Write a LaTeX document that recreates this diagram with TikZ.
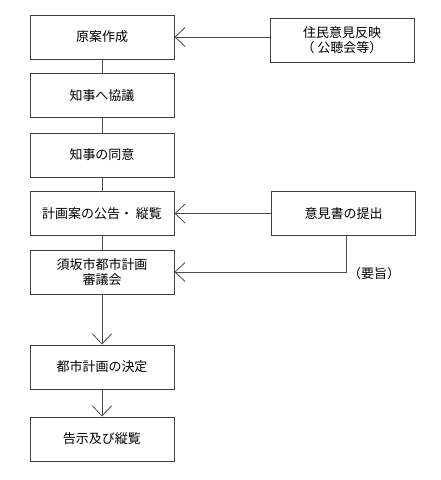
\documentclass[tikz,border=0pt]{standalone}
\usepackage{fontspec}
\setmainfont{Noto Sans CJK JP}
\usetikzlibrary{arrows.meta}
\begin{document}
\begin{tikzpicture}[x=1pt,y=-1pt,
  box/.style={draw=black!75,line width=1pt,minimum width=144pt,minimum height=44pt,inner sep=0pt,align=center,font=\fontsize{13}{15}\selectfont},
  link/.style={draw=black!70,line width=1pt},
  arr/.style={link,-{Straight Barb[length=10pt,width=19pt,line width=0.8pt]}},
  lbl/.style={font=\fontsize{13}{15}\selectfont,inner sep=0pt}]
\useasboundingbox (0,0) rectangle (440,480);
\node[box] (b1) at (102,37) {原案作成};
\node[box] (b2) at (102,95.5) {知事へ協議};
\node[box] (b3) at (102,155) {知事の同意};
\node[box] (b4) at (102,213.5) {計画案の公告・ 縦覧};
\node[box] (b5) at (102,272) {須坂市都市計画\\審議会};
\node[box] (b6) at (102,367) {都市計画の決定};
\node[box] (b7) at (102,439) {告示及び縦覧};
\node[box] (r1) at (342,40) {住民意見反映\\（ 公聴会等）};
\node[box] (r2) at (343.5,213.5) {意見書の提出};
\node[lbl] (yo) at (374,274) {（要旨）};
\draw[link] (b1) -- (b2);
\draw[link] (b2) -- (b3);
\draw[link] (b3) -- (b4);
\draw[link] (b4) -- (b5);
\draw[arr] (b5) -- (b6);
\draw[arr] (b6) -- (b7);
\draw[arr] (b1.east -| r1.west) -- (b1.east);
\draw[arr] (r2.west) -- (b4.east);
\coordinate (c1) at (346,0);
\draw[arr] (r2.south -| c1) -- (c1 |- b5.east) -- (b5.east);
\end{tikzpicture}
\end{document}
